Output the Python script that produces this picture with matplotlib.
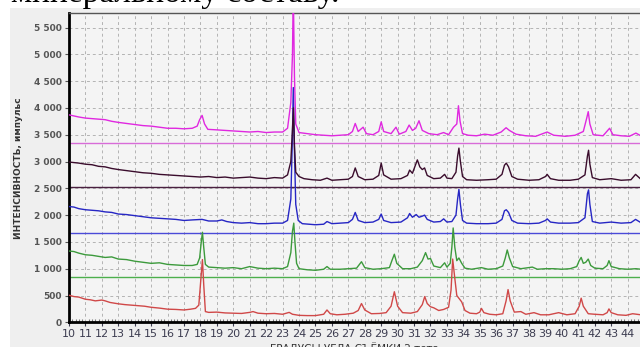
import numpy as np
import matplotlib.pyplot as plt
from matplotlib.patches import Rectangle

# --- values (2 theta, intensity)
red_pts = [(10, 505), (10.3, 480), (10.6, 470), (11, 430), (11.3, 420), (11.6, 400), (12, 415), (12.2, 400),
           (12.5, 370), (13, 345), (13.4, 330), (13.8, 320), (14.2, 310), (14.6, 300), (15, 280), (15.5, 265),
           (16, 245), (16.5, 240), (17, 230), (17.4, 245), (17.7, 260), (17.9, 320), (18.05, 900), (18.12, 1170),
           (18.2, 700), (18.3, 200), (18.5, 185), (19, 190), (19.5, 175), (20, 170), (20.5, 165), (21, 185),
           (21.2, 200), (21.5, 170), (22, 160), (22.5, 165), (23, 150), (23.4, 185), (23.6, 150), (24, 130),
           (24.5, 125), (25, 125), (25.5, 150), (25.7, 230), (25.9, 160), (26.3, 140), (26.8, 150), (27.3, 170),
           (27.6, 220), (27.8, 350), (28.0, 230), (28.4, 160), (28.9, 165), (29.3, 180), (29.6, 300), (29.8, 570),
           (30.0, 300), (30.3, 180), (30.8, 170), (31.2, 200), (31.5, 330), (31.65, 480), (31.8, 350), (32.0, 290),
           (32.2, 270), (32.5, 220), (32.8, 240), (33.1, 280), (33.25, 600), (33.35, 1180), (33.45, 900),
           (33.6, 500), (33.9, 380), (34.1, 220), (34.4, 170), (34.8, 160), (35.0, 190), (35.1, 260), (35.25, 180),
           (35.6, 150), (36.0, 140), (36.4, 160), (36.6, 400), (36.72, 610), (36.85, 400), (37.1, 190), (37.5, 200),
           (37.8, 150), (38.3, 180), (38.7, 140), (39.2, 140), (39.8, 180), (40.3, 140), (40.8, 160), (41.05, 300),
           (41.17, 450), (41.3, 300), (41.6, 160), (42.0, 150), (42.5, 140), (42.75, 180), (42.86, 250),
           (43.0, 180), (43.4, 140), (43.9, 130), (44.3, 160), (44.8, 140)]

green_pts = [(10, 1330), (10.3, 1320), (10.6, 1290), (11, 1260), (11.4, 1250), (11.8, 1230), (12.2, 1210),
             (12.6, 1220), (13, 1180), (13.5, 1170), (14, 1140), (14.5, 1120), (15, 1100), (15.5, 1110), (16, 1080),
             (16.5, 1070), (17, 1060), (17.5, 1060), (17.8, 1080), (17.95, 1200), (18.05, 1500), (18.12, 1680),
             (18.2, 1400), (18.3, 1080), (18.5, 1030), (19, 1020), (19.5, 1010), (20, 1020), (20.5, 1000),
             (21, 1040), (21.5, 1010), (22, 1000), (22.5, 1010), (23, 1000), (23.3, 1040), (23.5, 1300),
             (23.6, 1700), (23.68, 1850), (23.75, 1500), (23.85, 1100), (24, 1000), (24.5, 980), (25, 970),
             (25.5, 990), (25.7, 1040), (25.9, 990), (26.5, 990), (27.0, 1000), (27.5, 1010), (27.8, 1130),
             (28.0, 1020), (28.5, 990), (29.0, 1000), (29.5, 1020), (29.65, 1150), (29.8, 1270), (29.95, 1100),
             (30.3, 1000), (30.8, 1000), (31.2, 1030), (31.5, 1150), (31.7, 1300), (31.85, 1180), (32.0, 1190),
             (32.2, 1050), (32.6, 1020), (32.86, 1110), (33.0, 1030), (33.2, 1100), (33.3, 1400), (33.38, 1760),
             (33.48, 1400), (33.6, 1150), (33.73, 1200), (33.9, 1100), (34.1, 1010), (34.5, 990), (35.1, 1020),
             (35.5, 990), (36.0, 1000), (36.4, 1050), (36.55, 1200), (36.67, 1350), (36.8, 1200), (37.0, 1040),
             (37.5, 1000), (38.2, 1030), (38.5, 990), (39.0, 1000), (39.5, 1000), (40.0, 990), (40.5, 1000),
             (40.9, 1040), (41.05, 1150), (41.17, 1210), (41.3, 1100), (41.45, 1120), (41.6, 1180), (41.75, 1060),
             (42.0, 1010), (42.5, 1000), (42.75, 1060), (42.86, 1150), (43.0, 1040), (43.5, 1000), (44.0, 990),
             (44.5, 1000), (44.8, 990)]

blue_pts = [(10, 2160), (10.3, 2150), (10.6, 2120), (11, 2100), (11.4, 2090), (11.8, 2080), (12.2, 2060),
            (12.6, 2050), (13, 2020), (13.5, 2010), (14, 1990), (14.5, 1970), (15, 1950), (15.5, 1940), (16, 1930),
            (16.5, 1920), (17, 1900), (17.5, 1910), (18.1, 1920), (18.5, 1890), (19, 1890), (19.3, 1910),
            (19.6, 1880), (20, 1860), (20.5, 1850), (21, 1860), (21.5, 1840), (22, 1840), (22.5, 1850), (23, 1850),
            (23.3, 1900), (23.5, 2300), (23.6, 3500), (23.65, 4380), (23.72, 3200), (23.8, 2200), (23.95, 1900),
            (24.2, 1840), (24.6, 1830), (25.0, 1820), (25.5, 1830), (25.7, 1880), (26.0, 1840), (26.5, 1850),
            (27.0, 1860), (27.25, 1920), (27.42, 2050), (27.6, 1900), (28.0, 1860), (28.5, 1870), (28.85, 1920),
            (29.0, 2020), (29.15, 1900), (29.6, 1860), (30.2, 1870), (30.6, 1950), (30.73, 2030), (30.9, 1960),
            (31.13, 2010), (31.3, 1960), (31.5, 1980), (31.64, 2000), (31.8, 1920), (32.2, 1870), (32.6, 1880),
            (32.8, 1930), (33.0, 1870), (33.3, 1880), (33.55, 2000), (33.65, 2300), (33.73, 2480), (33.82, 2200),
            (33.95, 1900), (34.2, 1850), (34.8, 1840), (35.5, 1840), (36.0, 1850), (36.35, 1920), (36.5, 2080),
            (36.61, 2100), (36.75, 2050), (36.95, 1900), (37.3, 1850), (38.0, 1840), (38.6, 1850), (39.0, 1900),
            (39.1, 1930), (39.3, 1870), (39.8, 1850), (40.5, 1850), (41.0, 1860), (41.4, 1950), (41.55, 2400),
            (41.62, 2470), (41.7, 2200), (41.85, 1880), (42.3, 1850), (43.0, 1870), (43.6, 1850), (44.2, 1860),
            (44.48, 1920), (44.8, 1860)]

dark_pts = [(10, 2990), (10.3, 2980), (10.6, 2970), (11, 2950), (11.4, 2940), (11.8, 2910), (12.2, 2900),
            (12.6, 2870), (13, 2850), (13.5, 2830), (14, 2810), (14.5, 2790), (15, 2780), (15.5, 2760), (16, 2750),
            (16.5, 2740), (17, 2730), (17.5, 2720), (18.0, 2710), (18.5, 2720), (19, 2700), (19.5, 2710),
            (20, 2690), (20.5, 2700), (21, 2710), (21.5, 2690), (22, 2680), (22.5, 2700), (23, 2690), (23.3, 2750),
            (23.5, 3000), (23.6, 3600), (23.66, 4000), (23.72, 3300), (23.8, 2800), (24.0, 2720), (24.3, 2680),
            (24.8, 2660), (25.3, 2650), (25.7, 2690), (26.0, 2650), (26.5, 2660), (27.0, 2670), (27.25, 2720),
            (27.42, 2880), (27.6, 2720), (28.0, 2660), (28.5, 2670), (28.85, 2740), (29.0, 2970), (29.15, 2750),
            (29.6, 2670), (30.2, 2680), (30.6, 2740), (30.73, 2840), (30.9, 2780), (31.2, 3030), (31.35, 2900),
            (31.5, 2850), (31.64, 2880), (31.8, 2740), (32.2, 2680), (32.6, 2690), (32.86, 2760), (33.0, 2690),
            (33.3, 2680), (33.55, 2800), (33.65, 3100), (33.73, 3250), (33.82, 3000), (33.95, 2720), (34.2, 2660),
            (34.8, 2650), (35.5, 2660), (36.0, 2670), (36.35, 2760), (36.5, 2930), (36.61, 2970), (36.75, 2900),
            (36.95, 2720), (37.3, 2670), (38.0, 2650), (38.6, 2660), (39.0, 2720), (39.1, 2760), (39.3, 2680),
            (39.8, 2650), (40.5, 2650), (41.0, 2670), (41.4, 2750), (41.55, 3100), (41.62, 3210), (41.7, 2950),
            (41.85, 2700), (42.3, 2660), (43.0, 2680), (43.6, 2650), (44.2, 2660), (44.48, 2760), (44.8, 2670)]

magenta_pts = [(10, 3870), (10.3, 3850), (10.6, 3830), (11, 3810), (11.4, 3800), (11.8, 3790), (12.2, 3780),
               (12.6, 3750), (13, 3730), (13.5, 3710), (14, 3690), (14.5, 3670), (15, 3660), (15.5, 3640),
               (16, 3620), (16.5, 3620), (17, 3610), (17.5, 3620), (17.8, 3660), (17.95, 3780), (18.1, 3860),
               (18.25, 3700), (18.45, 3600), (19, 3590), (19.5, 3580), (20, 3570), (20.5, 3560), (21, 3550),
               (21.5, 3560), (22, 3540), (22.5, 3550), (23, 3550), (23.3, 3620), (23.5, 4100), (23.6, 5000),
               (23.65, 6200), (23.72, 4600), (23.8, 3700), (24.0, 3540), (24.5, 3520), (25.0, 3500), (25.5, 3490),
               (26.0, 3480), (26.5, 3490), (27.0, 3500), (27.25, 3560), (27.42, 3710), (27.6, 3560), (27.9, 3640),
               (28.1, 3520), (28.5, 3500), (28.85, 3560), (29.0, 3740), (29.15, 3560), (29.6, 3520), (29.9, 3640),
               (30.1, 3510), (30.5, 3560), (30.7, 3680), (30.9, 3580), (31.1, 3620), (31.3, 3760), (31.5, 3580),
               (31.9, 3520), (32.4, 3500), (32.8, 3540), (33.1, 3500), (33.4, 3640), (33.6, 3700), (33.7, 4040),
               (33.8, 3750), (33.95, 3520), (34.3, 3490), (34.8, 3480), (35.3, 3510), (35.8, 3490), (36.3, 3550),
               (36.6, 3630), (36.8, 3580), (37.2, 3510), (37.8, 3480), (38.4, 3470), (39.1, 3550), (39.5, 3490),
               (40.2, 3470), (40.8, 3490), (41.3, 3560), (41.5, 3800), (41.6, 3930), (41.7, 3700), (41.9, 3500),
               (42.5, 3480), (42.9, 3620), (43.1, 3500), (43.6, 3480), (44.1, 3470), (44.5, 3530), (44.8, 3480)]

# horizontal reference lines of each pattern
base_levels = [3350, 2530, 1670, 840]
base_colors = ['#d86cd8', '#4a2040', '#4a4ad8', '#4caf4c']

series = [(red_pts, '#d04848'), (green_pts, '#3c9a3c'), (blue_pts, '#2626c4'),
          (dark_pts, '#3a0c2c'), (magenta_pts, '#e028e0')]

fig = plt.figure(figsize=(6.4, 3.47), dpi=100)
fig.patch.set_facecolor('white')
# grey window of the screenshot behind the chart
fig.patches.append(Rectangle((10 / 640, 0), 1, 1 - 8 / 347, transform=fig.transFigure,
                             facecolor='#efefef', edgecolor='none', zorder=-10))

# cut-off line of document text above the screenshot
fig.text(11 / 640, 1 - 2 / 347, 'минеральному составу.', family='Liberation Serif',
         fontsize=24, va='baseline', ha='left', color='black')

ax = fig.add_axes([69 / 640, 1 - 322.3 / 347, 1 - 69 / 640, (322.3 - 13.3) / 347])
ax.set_facecolor('#f4f4f4')

for y0, c in zip(base_levels, base_colors):
    ax.axhline(y0, color=c, lw=1.0, zorder=2)

for pts, c in series:
    xs, ys = zip(*pts)
    ax.plot(xs, ys, color=c, lw=1.0, zorder=3)

ax.set_xlim(10, 44.75)
ax.set_ylim(0, 5765)
ax.set_xticks(np.arange(10, 45))
ax.set_yticks(np.arange(0, 5501, 500))
ax.set_yticklabels([f'{v:,}'.replace(',', ' ') for v in range(0, 5501, 500)])
ax.set_xticks(np.arange(10, 44.8, 0.2), minor=True)

ax.grid(True, which='major', color='#b4b4b4', linestyle=(0, (3, 3)), lw=0.7)
ax.set_axisbelow(True)

for s in ['left', 'bottom']:
    ax.spines[s].set_linewidth(2.0)
    ax.spines[s].set_color('black')
ax.spines['top'].set_color('#555555')
ax.spines['top'].set_linewidth(1.0)
ax.spines['right'].set_visible(False)

ax.tick_params(axis='y', length=3, width=0.8, colors='#555555', labelsize=6.5, pad=2)
ax.tick_params(axis='x', length=3, width=0.8, colors='#3c3c50', labelsize=8, pad=2)
ax.tick_params(axis='x', which='minor', length=2, width=0.8, color='#777777', direction='in')
for lab in ax.get_yticklabels():
    lab.set_fontweight('bold')

ax.set_ylabel('ИНТЕНСИВНОСТЬ, импульс', fontsize=6.5, fontweight='bold', color='#333333', labelpad=8)
ax.set_xlabel('ГРАДУСЫ УГЛА СЪЁМКИ 2 тета', fontsize=7.5, color='#333333', labelpad=2)

fig.savefig('out.png', dpi=100, facecolor=fig.get_facecolor())
